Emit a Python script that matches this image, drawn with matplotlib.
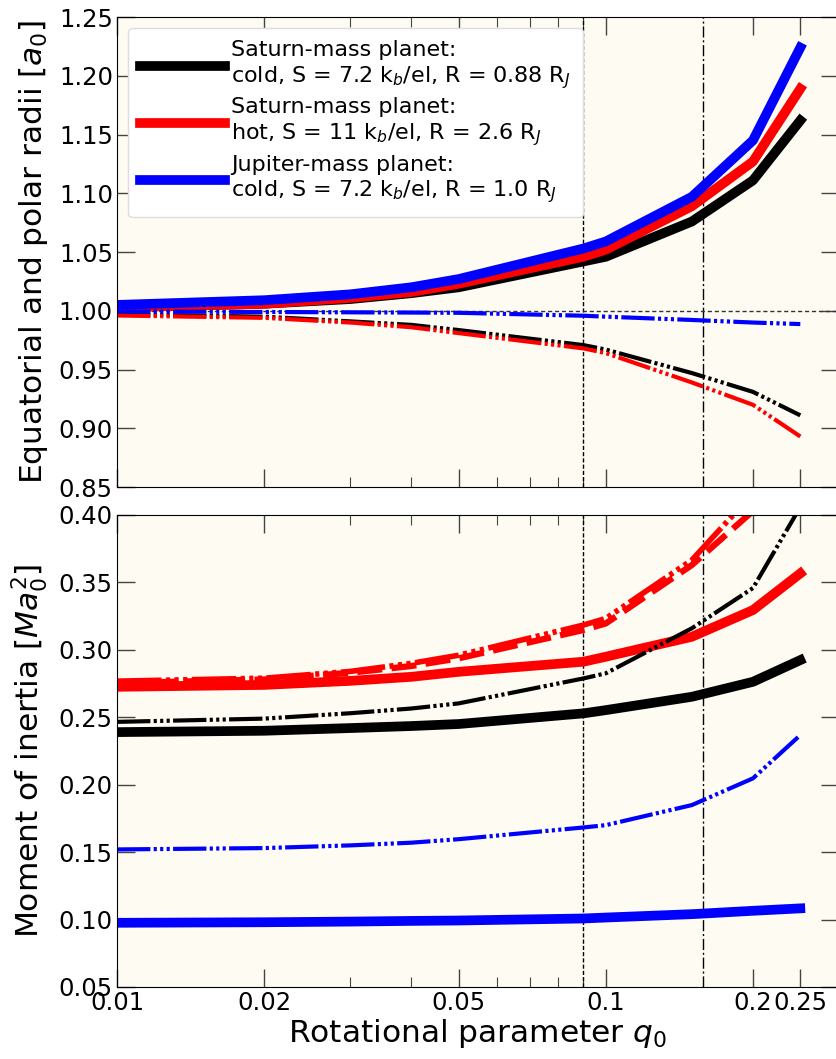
import numpy as np
import matplotlib.pyplot as plt
from matplotlib.ticker import FixedLocator, FixedFormatter, LogLocator, NullFormatter, MultipleLocator, FormatStrFormatter

# rotational parameter grid
q0 = [0.01, 0.02, 0.03, 0.04, 0.05, 0.09, 0.1, 0.15, 0.2, 0.25]

# equatorial / polar radii in units of a0
sat_cold_eq = [1.003, 1.006, 1.010, 1.015, 1.020, 1.042, 1.046, 1.076, 1.111, 1.162]
sat_hot_eq = [1.003, 1.006, 1.011, 1.016, 1.023, 1.046, 1.052, 1.089, 1.127, 1.189]
jup_cold_eq = [1.005, 1.009, 1.014, 1.020, 1.027, 1.053, 1.059, 1.097, 1.145, 1.224]
sat_cold_pol = [0.997, 0.995, 0.991, 0.988, 0.9836, 0.9708, 0.967, 0.947, 0.931, 0.911]
sat_hot_pol = [0.996, 0.994, 0.990, 0.986, 0.981, 0.968, 0.964, 0.939, 0.920, 0.893]
jup_cold_pol = [0.9995, 0.999, 0.9987, 0.9985, 0.9983, 0.9958, 0.995, 0.9922, 0.990, 0.9887]

# moments of inertia in units of M a0^2
sat_cold_I = [0.239, 0.240, 0.242, 0.2435, 0.245, 0.2529, 0.2553, 0.2652, 0.2763, 0.2924]
sat_hot_I = [0.2726, 0.274, 0.277, 0.280, 0.2837, 0.2912, 0.2949, 0.3097, 0.3295, 0.3567]
jup_cold_I = [0.0976, 0.098, 0.0985, 0.099, 0.0993, 0.1008, 0.1015, 0.104, 0.1065, 0.1083]
sat_cold_I2 = [0.2466, 0.249, 0.253, 0.2565, 0.2603, 0.2788, 0.2826, 0.316, 0.3458, 0.406]
sat_hot_I2 = [0.2768, 0.279, 0.284, 0.290, 0.296, 0.3184, 0.3233, 0.3666, 0.416, 0.48]
sat_hot_I3 = [0.2753, 0.278, 0.283, 0.288, 0.2937, 0.3147, 0.3196, 0.3629, 0.403, 0.46]
jup_cold_I2 = [0.152, 0.153, 0.155, 0.157, 0.1596, 0.1683, 0.170, 0.1849, 0.2047, 0.2368]

labels = ['Saturn-mass planet:\ncold, S = 7.2 k$_b$/el, R = 0.88 R$_J$',
          'Saturn-mass planet:\nhot, S = 11 k$_b$/el, R = 2.6 R$_J$',
          'Jupiter-mass planet:\ncold, S = 7.2 k$_b$/el, R = 1.0 R$_J$']

q_dotted = 0.09
q_dashdot = 0.158

bg = '#fefcf2'
ddd = (0, (8, 0.8, 0.75, 0.8, 0.75, 0.8, 0.75, 0.8))

fig = plt.figure(figsize=(8.36, 10.59), dpi=100)
ax1 = fig.add_axes([0.14, 0.5401, 0.8636, 0.4438])
ax2 = fig.add_axes([0.14, 0.068, 0.8636, 0.4457])

for ax in (ax1, ax2):
    ax.set_facecolor(bg)
    ax.set_xscale('log')
    ax.set_xlim(0.01, 0.3)
    ax.xaxis.set_major_locator(FixedLocator([0.01, 0.02, 0.05, 0.1, 0.2, 0.25]))
    ax.xaxis.set_major_formatter(FixedFormatter(['0.01', '0.02', '0.05', '0.1', '0.2', '0.25']))
    ax.xaxis.set_minor_locator(LogLocator(base=10, subs=np.arange(2, 10)))
    ax.xaxis.set_minor_formatter(NullFormatter())
    ax.tick_params(which='both', direction='in', top=True, right=True, labelsize=17.5, pad=3)
    ax.tick_params(which='major', length=13, width=1, color='#444444')
    ax.tick_params(which='minor', length=7, width=0.8, color='#444444')
    ax.axvline(q_dotted, color='k', lw=1, ls=(0, (3, 1.5)))
    ax.axvline(q_dashdot, color='k', lw=1, ls=(0, (8, 2, 1.5, 2)))
    ax.yaxis.set_major_locator(MultipleLocator(0.05))
    ax.yaxis.set_major_formatter(FormatStrFormatter('%.2f'))

# top panel: radii
ax1.axhline(1.0, color='#333333', lw=1, ls=(0, (3, 2)))
ax1.plot(q0, sat_cold_eq, color='k', lw=7, label=labels[0])
ax1.plot(q0, sat_hot_eq, color='red', lw=7, label=labels[1])
ax1.plot(q0, jup_cold_eq, color='blue', lw=7, label=labels[2])
ax1.plot(q0, sat_cold_pol, color='k', lw=3, ls=ddd)
ax1.plot(q0, sat_hot_pol, color='red', lw=3, ls=ddd)
ax1.plot(q0, jup_cold_pol, color='blue', lw=3, ls=ddd)
ax1.set_ylim(0.85, 1.25)
ax1.tick_params(labelbottom=False)
ax1.set_ylabel('Equatorial and polar radii [$a_0$]', fontsize=22.5, labelpad=6)
leg = ax1.legend(loc='upper left', fontsize=16, handlelength=3.8, labelspacing=0.3,
                 borderpad=0.55, handletextpad=0.3, borderaxespad=0.5, framealpha=1,
                 facecolor='white', edgecolor='#dddddd')
for line in leg.get_lines():
    line.set_linewidth(7)

# bottom panel: moment of inertia
ax2.plot(q0, sat_cold_I, color='k', lw=7)
ax2.plot(q0, sat_hot_I, color='red', lw=7)
ax2.plot(q0, jup_cold_I, color='blue', lw=7)
ax2.plot(q0, sat_cold_I2, color='k', lw=3, ls=ddd)
ax2.plot(q0, sat_hot_I3, color='red', lw=4.5, ls=(0, (4, 1.5)))
ax2.plot(q0, sat_hot_I2, color='red', lw=4, ls=ddd)
ax2.plot(q0, jup_cold_I2, color='blue', lw=3, ls=ddd)
ax2.set_ylim(0.05, 0.40)
ax2.set_ylabel('Moment of inertia [$Ma_0^2$]', fontsize=22.5, labelpad=6)
ax2.set_xlabel('Rotational parameter $q_0$', fontsize=22.5, labelpad=1)

fig.savefig('out.png', dpi=100)
